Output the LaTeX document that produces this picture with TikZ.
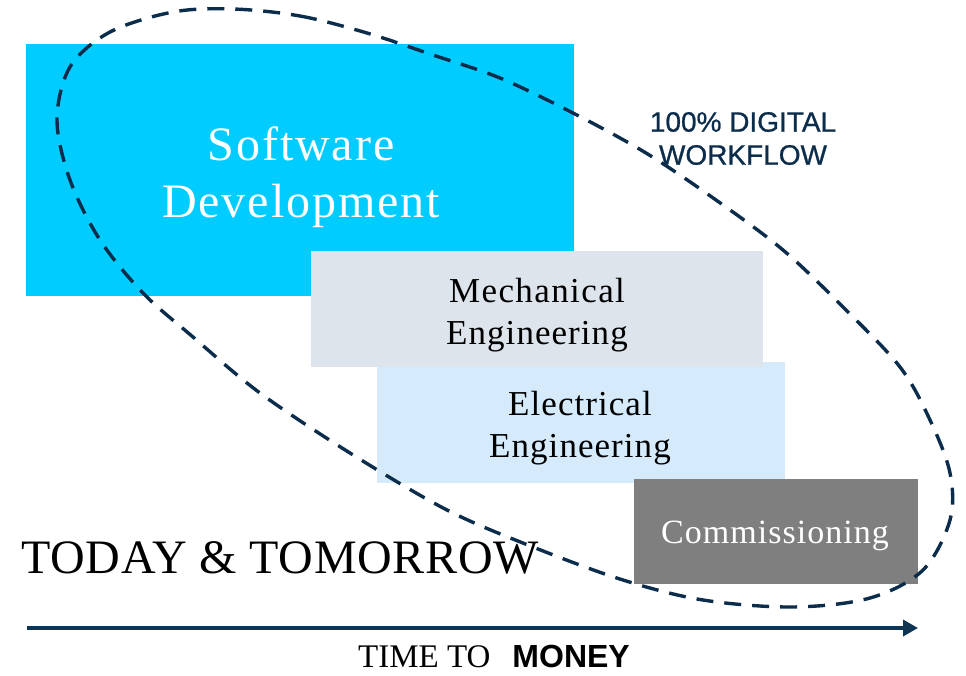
\documentclass[tikz,border=0pt]{standalone}
\usepackage{fontspec}
\setmainfont{Liberation Serif}
\newfontfamily\sansf{Liberation Sans}
\newfontfamily\sansbold[FakeBold=0.8]{Liberation Sans}
\newfontfamily\spserif[LetterSpace=3]{Liberation Serif}
\newfontfamily\spserifw[LetterSpace=4]{Liberation Serif}
\newfontfamily\spseriff[LetterSpace=1.5]{Liberation Serif}
\usetikzlibrary{arrows.meta}
\definecolor{swcyan}{HTML}{00CCFF}
\definecolor{mechgray}{HTML}{DDE4EB}
\definecolor{elecblue}{HTML}{D5EAFB}
\definecolor{commgray}{HTML}{7F7F7F}
\definecolor{navy}{HTML}{0B2D4B}
\definecolor{arrnavy}{HTML}{0F3554}
\tikzset{
  box/.style={draw=none, inner sep=0pt, anchor=north west},
  boxtext/.style={inner sep=0pt, align=center},
  flowcurve/.style={draw=navy, line width=3.4pt, dash pattern=on 17pt off 11pt},
  timearrow/.style={draw=arrnavy, line width=3.5pt, -{Triangle[length=15pt,width=16pt]}}
}
\begin{document}
\begin{tikzpicture}[x=1pt,y=-1pt]
\useasboundingbox (0,0) rectangle (966,675);
\fill[white] (0,0) rectangle (966,675);
% boxes
\node[box, fill=swcyan, minimum width=548pt, minimum height=252pt] (sw) at (26,44) {};
\node[box, fill=elecblue, minimum width=408pt, minimum height=121pt] (el) at (377,362) {};
\node[box, fill=mechgray, minimum width=452pt, minimum height=116pt] (me) at (311,251) {};
\node[box, fill=commgray, minimum width=284pt, minimum height=105pt] (co) at (634,479) {};
% box texts
\node[boxtext, text=white, font=\spserifw\fontsize{48}{57}\selectfont] (swt) at (301,177) {Software\\Development};
\node[boxtext, text=black, font=\spserif\fontsize{35}{42}\selectfont] (met) at (537,315) {{\spserifw Mechanical}\\Engineering};
\node[boxtext, text=black, font=\spserif\fontsize{35}{42}\selectfont] (elt) at (580,428) {Electrical\\Engineering};
\node[boxtext, text=white, font=\spserif\fontsize{34}{40}\selectfont] (cot) at (775,536) {Commissioning};
% dashed workflow curve
\draw[flowcurve] plot[smooth cycle, tension=0.55] coordinates {
 (233,9) (300,16) (367,33) (433,55) (500,78) (573,113) (646,153) (716,200)
 (783,250) (843,307) (900,367) (930,420) (950,473) (950,520) (923,570)
 (870,598) (793,607) (703,600) (623,580) (533,547) (447,510) (350,453)
 (260,393) (193,337) (143,293) (100,240) (70,180) (57,120) (70,67)
 (110,32) (173,12)};
% labels
\node[boxtext, text=navy, font=\sansbold\fontsize{28}{33}\selectfont] (dw) at (743,138.5) {100\% DIGITAL\\WORKFLOW};
\node[inner sep=0pt, anchor=base west, font=\spseriff\fontsize{48}{57}\selectfont] (tt) at (21,573) {TODAY \& TOMORROW};
% time arrow
\coordinate (arrS) at (27,628);
\coordinate (arrE) at (918,628);
\draw[timearrow] (arrS) -- (arrE);
\node[inner sep=0pt, anchor=base west, font=\fontsize{33}{36}\selectfont] (tm) at (358,667) {TIME TO\hspace{22pt}{\sansf\bfseries\fontsize{32}{36}\selectfont MONEY}};
\end{tikzpicture}
\end{document}
